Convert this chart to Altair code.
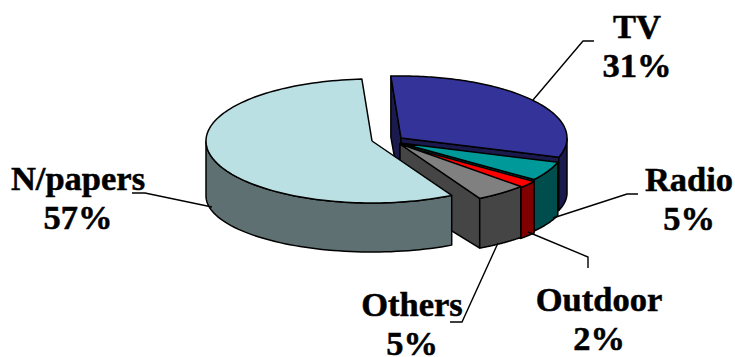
import numpy as np
import pandas as pd
import altair as alt

# Media share of spend, in drawing order clockwise from the top of the pie
segments = ["TV", "Radio", "Outdoor", "Others", "N/papers"]
shares = [31, 5, 2, 5, 57]
top_colors = ["#333399", "#009999", "#FF0000", "#808080", "#BBE0E3"]
side_colors = ["#1A1A4D", "#004D4D", "#800000", "#454545", "#5E7071"]

# Projection of the tilted, exploded pie onto the page
RX, RY = 166, 62
DROP, RY_BOTTOM = 55, 56
FIRST_ANGLE = -3.5
hubs = {
    "TV": (401, 138),
    "Radio": (400, 143),
    "Outdoor": (400, 145),
    "Others": (400, 144),
    "N/papers": (372, 141),
}

# Callout lines and label anchors, keyed by segment
leaders = {
    "TV": [(533, 100), (583, 41), (594, 41)],
    "Radio": [(553, 218), (627, 194), (638, 194)],
    "Outdoor": [(528, 232), (588, 257), (588, 268)],
    "Others": [(498, 243), (462, 322), (450, 322)],
    "N/papers": [(212, 207), (145, 193), (132, 193)],
}
label_pos = {
    "TV": (637, 38),
    "Radio": (689, 191),
    "Outdoor": (599, 311),
    "Others": (412, 316),
    "N/papers": (78, 190),
}
LINE_GAP = 38.5

x_enc = alt.X("x:Q", scale=alt.Scale(domain=[0, 735], nice=False, zero=False), axis=None)
y_enc = alt.Y("y:Q", scale=alt.Scale(domain=[357, 0], nice=False, zero=False), axis=None)


def rim(hub, angles, bottom=False):
    """Points on the top or bottom ellipse of a slice at the given angles (degrees)."""
    a = np.radians(angles)
    cy = hub[1] + (DROP if bottom else 0)
    ry = RY_BOTTOM if bottom else RY
    return list(zip(hub[0] + RX * np.sin(a), cy - ry * np.cos(a)))


def polygon(points, fill, width=1.5):
    pts = list(points) + [points[0]]
    frame = pd.DataFrame(pts, columns=["x", "y"]).assign(i=range(len(pts)))
    return (
        alt.Chart(frame)
        .mark_line(fill=fill, stroke="black", strokeWidth=width, strokeJoin="round", clip=False)
        .encode(x=x_enc, y=y_enc, order="i:Q")
    )


def path(points, width=1.4):
    frame = pd.DataFrame(points, columns=["x", "y"]).assign(i=range(len(points)))
    return (
        alt.Chart(frame)
        .mark_line(stroke="black", strokeWidth=width)
        .encode(x=x_enc, y=y_enc, order="i:Q")
    )


def wall(hub, angle, color):
    top_hub = (float(hub[0]), float(hub[1]))
    low_hub = (float(hub[0]), float(hub[1] + DROP))
    return polygon([top_hub] + rim(hub, [angle]) + rim(hub, [angle], True) + [low_hub], color)


layers = []
start = FIRST_ANGLE
for name, share, top, side in zip(segments, shares, top_colors, side_colors):
    stop = start + share * 3.6
    hub = hubs[name]
    # Radial walls are only seen on the slices that open towards the viewer
    if name == "TV":
        layers.append(wall(hub, start, side))
    if name != "N/papers":
        layers.append(wall(hub, stop, side))
    # Outer skirt: the part of the rim that faces front
    lo, hi = max(start, 90), min(stop, 270)
    if hi > lo:
        arc = np.linspace(lo, hi, 60)
        layers.append(polygon(rim(hub, arc) + rim(hub, arc[::-1], True), side))
    # Top face
    arc = np.linspace(start, stop, 120)
    layers.append(polygon([(float(hub[0]), float(hub[1]))] + rim(hub, arc), top))
    start = stop

for name in segments:
    layers.append(path(leaders[name]))

label_rows = []
for name, share in zip(segments, shares):
    px, py = label_pos[name]
    label_rows.append({"x": px, "y": py, "t": name})
    label_rows.append({"x": px, "y": py + LINE_GAP, "t": f"{share}%"})
layers.append(
    alt.Chart(pd.DataFrame(label_rows))
    .mark_text(font="Liberation Serif", fontWeight="bold", fontSize=34.5, color="black",
               stroke="black", strokeWidth=0.5, align="center", baseline="alphabetic")
    .encode(x=x_enc, y=y_enc, text="t:N")
)

chart = (
    alt.layer(*layers)
    .properties(width=735, height=357, padding=0, background="white")
    .configure_view(stroke=None)
)
chart.save("out.html", embed_options={"renderer": "svg", "actions": False})
